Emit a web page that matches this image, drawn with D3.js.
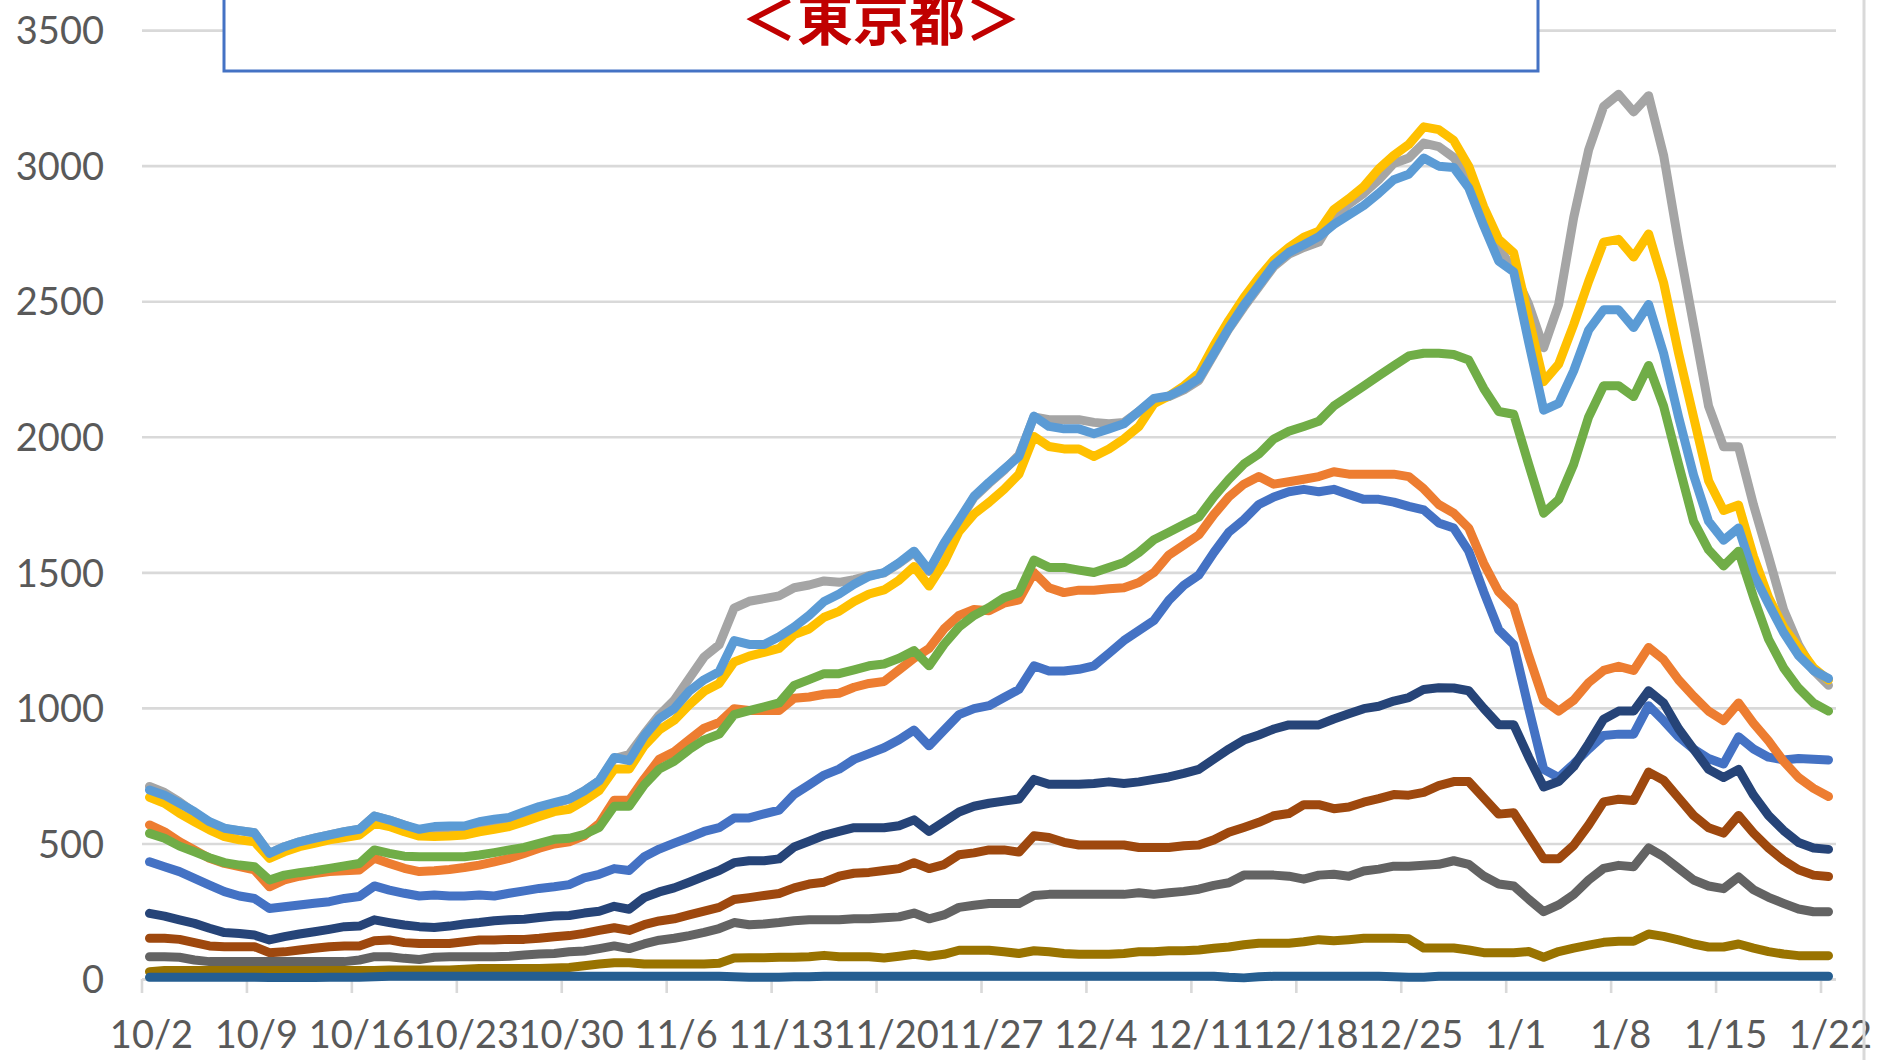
<!DOCTYPE html>
<html>
<head>
<meta charset="utf-8">
<script src="https://cdn.jsdelivr.net/npm/d3@7"></script>
<style>
  html, body { margin: 0; padding: 0; background: #fff; }
  svg { display: block; }
</style>
</head>
<body>
<svg id="chart" width="1882" height="1060"></svg>
<script>
const W = 1882, H = 1060;

const startDay = new Date(2020, 9, 2);
const endDay = new Date(2021, 0, 23);
const dates = d3.timeDay.range(startDay, endDay).map(d3.timeFormat("%-m/%-d"));

const tickLabels = ["10/2","10/9","10/16","10/23","10/30","11/6","11/13","11/20","11/27","12/4","12/11","12/18","12/25","1/1","1/8","1/15","1/22"];
const yTicks = [0, 500, 1000, 1500, 2000, 2500, 3000, 3500];
const title = "＜東京都＞";

const blueVals = [434,416,398,373,348,324,308,299,262,268,275,281,287,299,306,345,330,318,308,312,308,308,312,308,318,327,336,342,350,375,
  388,409,402,453,481,503,524,546,560,596,596,611,625,683,718,754,776,812,833,855,884,920,862,920,977,999,1010,1040,1070,
  1157,1138,1138,1144,1157,1203,1250,1287,1324,1399,1454,1492,1575,1650,1696,1752,1780,1799,1808,1799,1808,1789,1771,1771,1761,1745,1732,1684,
  1665,1580,1430,1290,1235,1000,775,745,795,850,900,905,905,1010,955,895,850,815,795,895,850,820,810,815,812,810];

const orangeVals = [570,545,508,478,447,428,416,404,342,367,381,391,398,401,404,447,428,410,398,401,406,413,422,434,447,465,484,500,508,530,
  575,661,661,740,812,840,884,927,948,999,992,992,992,1037,1042,1052,1056,1078,1092,1099,1142,1185,1221,1293,1343,1365,1360,1388,1400,
  1501,1445,1427,1436,1436,1441,1445,1464,1501,1566,1603,1640,1715,1780,1827,1855,1827,1836,1845,1855,1873,1864,1864,1864,1864,1855,1810,1752,
  1720,1665,1535,1430,1375,1195,1030,990,1030,1095,1140,1155,1140,1225,1180,1105,1045,990,955,1020,945,880,805,745,705,675];

const grayVals = [712,690,655,615,580,556,549,541,465,490,508,521,533,545,554,603,588,570,550,540,540,545,552,565,580,600,625,648,665,695,
  733,815,830,905,975,1030,1110,1190,1235,1370,1395,1405,1415,1445,1455,1470,1465,1475,1490,1500,1535,1575,1505,1605,1690,1778,1830,1878,1935,
  2075,2065,2065,2065,2055,2050,2055,2095,2140,2150,2175,2210,2305,2400,2480,2555,2630,2675,2700,2720,2810,2860,2900,2950,3010,3030,3085,3072,
  3032,2955,2815,2705,2610,2490,2330,2490,2810,3060,3220,3265,3200,3260,3040,2715,2415,2115,1965,1965,1750,1560,1365,1235,1140,1085];

const goldVals = [672,650,613,582,552,527,515,508,447,471,490,502,515,524,533,576,564,545,529,527,529,533,545,554,564,582,601,619,628,660,
  697,776,776,862,920,956,1013,1063,1092,1171,1193,1207,1221,1272,1293,1336,1358,1394,1422,1437,1473,1523,1451,1537,1652,1717,1760,1808,1864,
  2003,1966,1957,1957,1929,1957,1994,2040,2124,2152,2189,2236,2338,2431,2515,2589,2654,2700,2738,2760,2840,2880,2925,2990,3040,3080,3145,3135,
  3095,3000,2850,2730,2680,2440,2205,2270,2415,2575,2720,2730,2665,2750,2570,2310,2075,1840,1730,1750,1560,1410,1300,1225,1150,1105];

const skyVals = [699,680,650,619,582,558,549,541,465,490,508,521,533,545,554,603,588,570,554,564,566,566,582,591,598,619,638,652,666,695,
  733,819,807,898,963,999,1063,1106,1135,1250,1236,1236,1264,1300,1343,1394,1422,1458,1487,1501,1537,1580,1509,1609,1695,1782,1834,1882,1929,
  2078,2040,2031,2031,2013,2031,2050,2096,2143,2152,2180,2217,2310,2403,2487,2561,2636,2682,2710,2740,2785,2820,2855,2900,2950,2970,3030,3000,
  2995,2920,2780,2650,2610,2350,2100,2125,2245,2395,2470,2470,2405,2490,2310,2075,1860,1690,1620,1665,1495,1385,1280,1195,1140,1110];

const greenVals = [539,521,492,471,449,431,422,416,367,385,394,401,410,419,428,478,465,455,453,453,453,453,459,468,478,487,502,517,521,535,
  561,639,639,718,776,805,848,884,905,977,992,1006,1020,1085,1106,1128,1128,1142,1157,1164,1185,1213,1157,1236,1300,1343,1372,1408,1427,
  1547,1520,1520,1510,1501,1520,1538,1575,1622,1650,1678,1706,1780,1845,1901,1938,1994,2022,2040,2059,2115,2152,2189,2227,2264,2300,2310,2310,
  2305,2285,2180,2095,2085,1900,1720,1770,1900,2075,2190,2190,2150,2265,2115,1900,1690,1585,1525,1580,1410,1255,1150,1075,1020,990];

const navyVals = [244,234,220,207,189,173,170,164,146,158,168,176,185,195,197,220,210,201,195,192,197,205,210,217,220,222,229,234,236,245,
  252,270,259,302,323,338,359,381,402,431,438,438,445,489,510,532,546,560,560,560,567,589,546,582,618,639,650,658,666,
  738,720,720,720,723,729,723,729,738,747,760,775,813,850,883,902,924,939,939,939,961,980,999,1008,1027,1040,1070,1076,
  1075,1065,1000,940,940,820,710,730,785,870,960,990,990,1065,1020,925,850,775,745,775,680,605,550,505,485,480];

const brownVals = [152,152,148,136,124,121,121,121,99,102,109,115,121,124,124,143,146,136,133,133,133,139,146,146,148,148,152,158,162,170,
  181,191,181,202,216,224,238,252,266,295,302,310,317,338,352,359,381,392,395,402,409,431,409,424,460,467,478,478,470,
  530,524,506,496,496,496,496,487,487,487,493,496,515,543,561,580,604,612,645,645,630,636,654,667,682,680,690,715,
  730,730,670,610,615,530,445,445,495,570,655,665,660,765,735,670,605,560,540,605,540,485,440,405,385,380];

const darkGrayVals = [84,84,82,72,66,66,66,66,66,66,66,66,66,66,72,84,84,78,74,82,84,84,84,84,86,90,94,96,102,105,
  114,124,114,131,145,152,162,174,188,210,202,205,210,217,220,220,220,224,224,228,231,245,224,238,266,274,280,280,280,
  310,314,314,314,314,314,314,320,314,320,325,333,347,357,385,385,385,381,370,385,388,381,400,407,418,418,421,425,
  438,425,382,352,345,296,250,275,313,367,410,421,416,485,453,410,367,345,335,378,331,303,281,260,250,250];

const oliveVals = [29,33,33,33,33,33,33,33,33,33,33,33,33,33,33,33,35,35,35,35,35,38,41,41,41,41,41,42,44,51,
  57,62,62,57,57,57,57,57,60,79,80,80,82,82,84,89,84,84,84,79,86,93,86,93,108,108,108,102,96,
  106,102,96,93,93,93,96,102,102,106,106,109,115,120,128,134,134,134,139,147,143,147,152,152,152,150,116,116,
  116,109,99,99,99,103,82,103,116,127,137,141,141,168,159,146,131,120,120,131,116,103,94,88,88,88];

const steelVals = [8,8,8,8,8,8,8,8,7,7,7,7,8,8,8,10,12,12,12,12,12,12,12,12,12,12,12,12,12,12,
  12,12,12,12,12,12,12,12,12,10,8,8,8,10,10,12,12,12,12,12,12,12,12,12,12,12,12,12,12,
  12,12,12,12,12,12,12,12,12,12,12,12,12,8,6,10,12,12,12,12,12,12,12,12,10,8,8,12,
  12,12,12,12,12,12,12,12,12,12,12,12,12,12,12,12,12,12,12,12,12,12,12,12,12,12];

const seriesVals = [blueVals, orangeVals, grayVals, goldVals, skyVals, greenVals, navyVals, brownVals, darkGrayVals, oliveVals, steelVals];
const seriesColors = ["#4472C4","#ED7D31","#A5A5A5","#FFC000","#5B9BD5","#70AD47","#264478","#9E480E","#636363","#997300","#255E91"];

const svg = d3.select("#chart");
svg.append("rect").attr("width", W).attr("height", H).attr("fill", "#fff");

const x = d3.scalePoint().domain(dates).range([142, 1836]).padding(0.5);
const y = d3.scaleLinear().domain([0, 3500]).range([979.5, 30.6]);
const step = x.step();

const labelFont = "Lato, 'Open Sans', sans-serif";

// gridlines
svg.append("g")
  .selectAll("line")
  .data(yTicks)
  .join("line")
  .attr("x1", 142)
  .attr("x2", 1836)
  .attr("y1", d => y(d))
  .attr("y2", d => y(d))
  .attr("stroke", "#D9D9D9")
  .attr("stroke-width", 2.6);

// y labels
svg.append("g")
  .selectAll("text")
  .data(yTicks)
  .join("text")
  .attr("x", 104)
  .attr("y", d => y(d))
  .attr("dy", "0.36em")
  .attr("text-anchor", "end")
  .attr("font-family", labelFont)
  .attr("font-size", 38)
  .attr("fill", "#595959")
  .text(d => d);

// category tick marks + labels
const tickDates = dates.filter(d => tickLabels.includes(d));

svg.append("g")
  .selectAll("line")
  .data(tickDates)
  .join("line")
  .attr("x1", d => x(d) - step / 2)
  .attr("x2", d => x(d) - step / 2)
  .attr("y1", 979)
  .attr("y2", 993)
  .attr("stroke", "#D9D9D9")
  .attr("stroke-width", 2.6);

svg.append("line")
  .attr("x1", 142).attr("x2", 1836)
  .attr("y1", y(0)).attr("y2", y(0))
  .attr("stroke", "#D9D9D9")
  .attr("stroke-width", 2.6);

svg.append("g")
  .selectAll("text")
  .data(tickDates)
  .join("text")
  .attr("x", d => x(d) + 2)
  .attr("y", 1048)
  .attr("text-anchor", "middle")
  .attr("font-family", labelFont)
  .attr("font-size", 38)
  .attr("fill", "#595959")
  .text(d => d);

// lines
const line = d3.line()
  .x((d, i) => x(dates[i]))
  .y(d => y(d));

svg.append("g")
  .selectAll("path")
  .data(seriesVals)
  .join("path")
  .attr("d", d => line(d))
  .attr("fill", "none")
  .attr("stroke", (d, i) => seriesColors[i])
  .attr("stroke-width", 9)
  .attr("stroke-linejoin", "round")
  .attr("stroke-linecap", "round");

// right border of chart area
svg.append("line")
  .attr("x1", 1864).attr("x2", 1864)
  .attr("y1", 0).attr("y2", H)
  .attr("stroke", "#D9D9D9")
  .attr("stroke-width", 3);

// title box
svg.append("rect")
  .attr("x", 224)
  .attr("y", -10)
  .attr("width", 1314)
  .attr("height", 81)
  .attr("fill", "#fff")
  .attr("stroke", "#4472C4")
  .attr("stroke-width", 3);

svg.append("text")
  .attr("x", 881)
  .attr("y", 40)
  .attr("text-anchor", "middle")
  .attr("font-family", "'Noto Sans CJK JP', sans-serif")
  .attr("font-weight", 700)
  .attr("font-size", 56)
  .attr("fill", "#C00000")
  .text(title);
</script>
</body>
</html>
